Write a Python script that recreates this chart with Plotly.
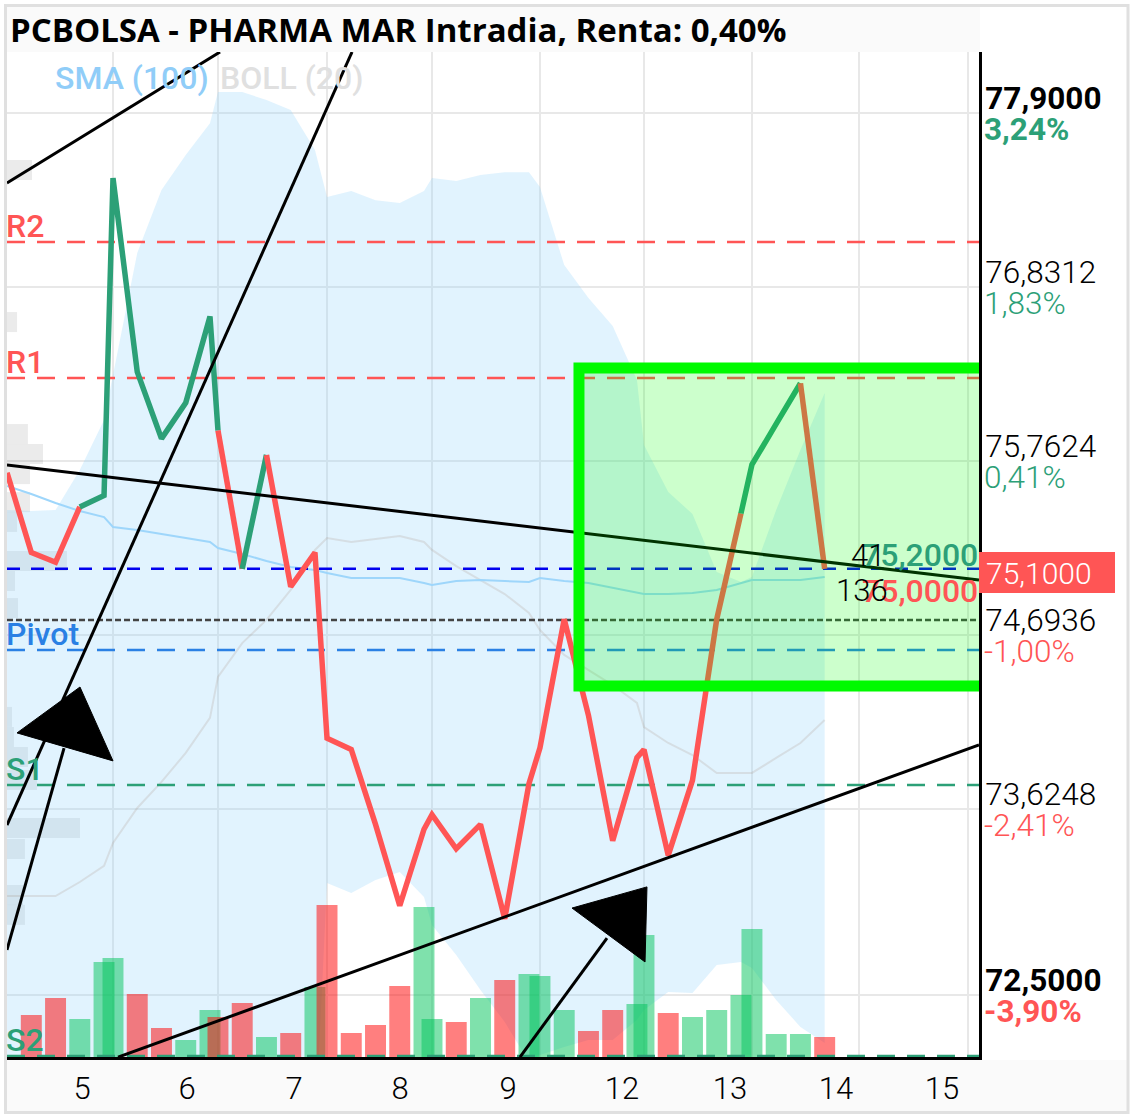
import plotly.graph_objects as go

# ---------------- data ----------------
day_labels = ["5", "6", "7", "8", "9", "12", "13", "14", "15"]
day_label_pos = [0.711, 1.693, 2.694, 3.686, 4.696, 5.762, 6.773, 7.764, 8.756]
session_starts = [0.01, 1.001, 1.983, 3.003, 3.985, 4.995, 5.968, 6.978, 7.979, 8.999]
slots_per_session = [5, 5, 5, 5, 5, 5, 5, 4]
SLOT = 0.2268

price = [75.69, 75.20, 75.14, 75.48, 75.55,
         77.50, 76.31, 75.90, 76.12, 76.65,
         75.95, 75.10, 75.80, 74.99, 75.20,
         74.06, 73.99, 73.53, 73.03, 73.50,
         73.59, 73.38, 73.53, 72.95, 73.78,
         74.00, 74.79, 74.20, 73.43, 73.94,
         73.99, 73.34, 73.80, 74.79, 75.44,
         75.74, 75.99, 76.24, 75.10]
segment_trend = ["d", "d", "d", "u", "u", "u", "u", "u", "u", "u",
                 "d", "u", "d", "d", "d", "d", "d", "d", "d", "d",
                 "d", "d", "d", "d", "d", "d", "d", "d", "d", "d",
                 "d", "d", "d", "d", "u", "u", "u", "d"]
boll_upper = [75.461, 75.455, 75.461, 75.707, 76.014,
              76.291, 77.040, 77.427, 77.642, 77.838,
              78.029, 78.029, 77.980, 77.918, 77.673,
              77.384, 77.421, 77.365, 77.347, 77.421,
              77.501, 77.482, 77.519, 77.537, 77.537,
              77.445, 76.966, 76.764, 76.592, 76.260,
              75.861, 75.572, 75.437, 75.080, 75.019,
              75.050, 75.461, 75.830, 76.180]
boll_lower = [71.6, 71.6, 71.6, 71.6, 71.6,
              71.6, 71.6, 71.6, 71.6, 71.6,
              71.6, 71.6, 71.6, 71.6, 71.6,
              73.170, 73.109, 73.189, 73.238, 73.084,
              72.912, 72.728, 72.513, 72.316, 72.071,
              72.114, 72.163, 72.206, 72.206, 72.329,
              72.390, 72.501, 72.494, 72.666, 72.685,
              72.648, 72.451, 72.286, 72.187]
boll_mid = [73.090, 73.090, 73.090, 73.176, 73.275,
            73.416, 73.631, 73.791, 73.969, 74.184,
            74.436, 74.644, 74.786, 74.970, 75.216,
            75.289, 75.265, 75.283, 75.302, 75.265,
            75.216, 75.117, 75.031, 74.945, 74.829,
            74.724, 74.571, 74.479, 74.386, 74.276,
            74.128, 74.030, 73.956, 73.846, 73.846,
            73.846, 73.938, 74.030, 74.171]
sma_100 = [75.609, 75.560, 75.504, 75.455, 75.418,
           75.357, 75.338, 75.314, 75.289, 75.265,
           75.228, 75.191, 75.148, 75.111, 75.093,
           75.074, 75.044, 75.044, 75.044, 75.013,
           75.001, 75.025, 75.031, 75.025, 75.019,
           75.044, 75.025, 75.013, 74.982, 74.951,
           74.945, 74.945, 74.951, 74.970, 75.013,
           75.031, 75.031, 75.031, 75.050]
volume = [0, 42, 59, 38, 95,
          99, 63, 29, 17, 47,
          40, 54, 20, 24, 70,
          152, 24, 32, 71, 150,
          38, 35, 59, 77, 83,
          81, 47, 26, 47, 53,
          122, 44, 40, 47, 62,
          128, 23, 23, 20]
volume_side = ["d", "d", "d", "u", "u",
               "u", "d", "d", "u", "u",
               "d", "d", "u", "d", "u",
               "d", "d", "d", "d", "u",
               "u", "d", "u", "d", "u",
               "u", "u", "d", "d", "u",
               "u", "d", "u", "u", "u",
               "u", "u", "u", "d"]

profile_price = [77.55, 76.616, 75.928, 75.805, 75.682, 75.51, 75.388, 75.148, 75.025,
                 74.859, 74.19, 74.067, 73.944, 73.803, 73.508, 73.379, 73.096, 72.974]
profile_size = [0.234, 0.094, 0.196, 0.337, 0.215, 0.215, 0.094, 0.561, 0.075,
                0.103, 0.047, 0.065, 0.196, 0.281, 0.683, 0.168, 0.15, 0.168]

level_names = ["R2", "R1", "Pivot", "S1", "S2"]
level_values = [77.108, 76.272, 74.601, 73.772, 72.107]
last_close_level = 75.10
mean_level = 74.786

price_ticks = [77.9, 76.8312, 75.7624, 74.6936, 73.6248, 72.4816]
price_tick_labels = ["77,9000", "76,8312", "75,7624", "74,6936", "73,6248", "72,5000"]
pct_tick_labels = ["3,24%", "1,83%", "0,41%", "-1,00%", "-2,41%", "-3,90%"]

trend_lines = [
    ([0.009, 2.002], [77.47, 78.275]),
    ([0.009, 3.237], [73.526, 78.275]),
    ([0.009, 0.543], [72.759, 73.999]),
    ([0.009, 9.102], [75.738, 75.031]),
    ([1.048, 9.102], [72.10, 74.018]),
    ([4.808, 5.622], [72.10, 72.832]),
]
arrow_heads = [
    ([0.103, 0.692, 1.001], [74.092, 74.374, 73.92]),
    ([5.295, 5.996, 5.978], [73.016, 73.146, 72.685]),
]
box_x = [5.36, 9.5]
box_y = [74.38, 76.334]

# ---------------- styles ----------------
GREEN, RED = "#2ca077", "#ff5555"
BAR_COLORS = {"u": "rgba(0,196,90,0.5)", "d": "rgba(255,0,0,0.5)"}
LINE_COLORS = {"u": GREEN, "d": RED}
LEVEL_COLORS = {"R2": RED, "R1": RED, "Pivot": "#2a80e4", "S1": GREEN, "S2": GREEN}
GRID = "#e8e8e8"
FONT = "Roboto"
W, H = 1133, 1118
L, R, T, B = 7, 979, 52, 1057
X_RANGE = [0.0094, 9.102]
Y_RANGE = [72.101, 78.275]
VOL_RANGE = [0, 1005]


def paper_x(px):
    return (px - L) / (R - L)


def paper_y(py):
    return (B - py) / (B - T)


times = []
for start, n in zip(session_starts, slots_per_session):
    times += [start + k * SLOT for k in range(n)]

fig = go.Figure()

# Bollinger band and middle line (lowest layer)
fig.add_trace(go.Scatter(x=times, y=boll_upper, mode="lines", line=dict(width=0), yaxis="y"))
fig.add_trace(go.Scatter(x=times, y=boll_lower, mode="lines", line=dict(width=0), yaxis="y",
                         fill="tonexty", fillcolor="rgba(135,206,250,0.25)"))
fig.add_trace(go.Scatter(x=times, y=boll_mid, mode="lines", yaxis="y",
                         line=dict(color="rgba(150,110,80,0.15)", width=2)))
# Left-hand volume profile
fig.add_trace(go.Bar(orientation="h", y=profile_price, x=profile_size, base=X_RANGE[0], width=0.123,
                     marker=dict(color="rgba(0,0,0,0.08)", line=dict(width=0)), yaxis="y"))
# Volume bars
fig.add_trace(go.Bar(x=times, y=volume, width=0.196, yaxis="y2",
                     marker=dict(color=[BAR_COLORS[s] for s in volume_side], line=dict(width=0))))
# SMA
fig.add_trace(go.Scatter(x=times, y=sma_100, mode="lines", yaxis="y3",
                         line=dict(color="#9ed6fb", width=2)))
# Horizontal levels
for name, val in zip(level_names, level_values):
    fig.add_trace(go.Scatter(x=X_RANGE, y=[val, val], mode="lines", yaxis="y3",
                             line=dict(color=LEVEL_COLORS[name], width=2.5, dash="18px,12px")))
fig.add_trace(go.Scatter(x=X_RANGE, y=[last_close_level] * 2, mode="lines", yaxis="y3",
                         line=dict(color="#0000ee", width=2.5, dash="13px,11px")))
fig.add_trace(go.Scatter(x=X_RANGE, y=[mean_level] * 2, mode="lines", yaxis="y3",
                         line=dict(color="#444444", width=2.5, dash="6px,3px")))
# Price line, split by direction
start = 0
for i in range(1, len(segment_trend) + 1):
    if i == len(segment_trend) or segment_trend[i] != segment_trend[start]:
        fig.add_trace(go.Scatter(x=times[start:i + 1], y=price[start:i + 1], mode="lines", yaxis="y3",
                                 line=dict(color=LINE_COLORS[segment_trend[start]], width=5.5)))
        start = i
# Drawn trend lines and arrow heads
for xs, ys in trend_lines:
    fig.add_trace(go.Scatter(x=xs, y=ys, mode="lines", yaxis="y3", line=dict(color="black", width=3)))
for xs, ys in arrow_heads:
    fig.add_trace(go.Scatter(x=xs + xs[:1], y=ys + ys[:1], mode="lines", yaxis="y3", fill="toself",
                             fillcolor="black", line=dict(color="black", width=1)))

shapes = [
    dict(type="rect", xref="paper", yref="paper", layer="below", x0=paper_x(7), x1=paper_x(980),
         y0=paper_y(7), y1=paper_y(52), fillcolor="#fafafa", line=dict(width=0)),
    dict(type="rect", xref="paper", yref="paper", layer="below", x0=paper_x(7), x1=paper_x(1127),
         y0=paper_y(1060), y1=paper_y(1111), fillcolor="#fafafa", line=dict(width=0)),
    dict(type="rect", xref="x", yref="y3", x0=box_x[0], x1=box_x[1], y0=box_y[0], y1=box_y[1],
         fillcolor="rgba(0,255,0,0.2)", line=dict(color="#00fa00", width=11)),
    dict(type="rect", xref="paper", yref="paper", x0=paper_x(979), x1=paper_x(1115),
         y0=paper_y(552), y1=paper_y(593), fillcolor=RED, line=dict(width=0)),
    dict(type="rect", xref="paper", yref="paper", x0=paper_x(5.5), x1=paper_x(1128),
         y0=paper_y(5.5), y1=paper_y(1112.5), fillcolor="rgba(0,0,0,0)",
         line=dict(color="#e0e0e0", width=3)),
]


def note(text, x, y, color, xanchor="left", yref="paper", xref="paper", weight=400, family=FONT,
         yshift=0, size=32):
    return dict(text=text, x=x, y=y, xref=xref, yref=yref, xanchor=xanchor, yanchor="middle",
                showarrow=False, yshift=yshift, borderpad=0, borderwidth=0,
                font=dict(family=family, size=size, color=color, weight=weight))


annotations = [
    note("PCBOLSA - PHARMA MAR Intradia, Renta: 0,40%", paper_x(10), paper_y(30), "#000000",
         weight=700, family="Open Sans", size=33),
    note("SMA (100)", paper_x(55), paper_y(78), "#90cdf8", weight=500),
    note("BOLL (20)", paper_x(220), paper_y(78), "#e0e0e0", weight=500),
    note("75,1000", paper_x(986), paper_y(573), "#ffffff", weight=300, size=30),
    note("75,2000", paper_x(978), paper_y(555), GREEN, xanchor="right", weight=500),
    note("75,0000", paper_x(978), paper_y(591), RED, xanchor="right", weight=500),
    note("41", paper_x(868), paper_y(555), "#000000", xanchor="center", weight=300, size=31),
    note("136", paper_x(862), paper_y(590), "#000000", xanchor="center", weight=300, size=31),
]
for name, val in zip(level_names, level_values):
    annotations.append(note(name, paper_x(6), val, LEVEL_COLORS[name], yref="y3", yshift=16, weight=500))

last = len(price_ticks) - 1
price_text, pct_text = [], []
for i, (p, c) in enumerate(zip(price_tick_labels, pct_tick_labels)):
    col = RED if c.startswith("-") else GREEN
    strong = i in (0, last)
    price_text.append(f"<b>{p}</b>" if strong else p)
    pct_text.append(f"<span style='color:{col}'><b>{c}</b></span>" if strong
                    else f"<span style='color:{col}'>{c}</span>")

tick_font = dict(family=FONT, size=31.5, color="#000000", weight=300)

fig.update_layout(
    width=W, height=H, autosize=False,
    margin=dict(l=L, r=W - R, t=T, b=H - B, pad=0),
    paper_bgcolor="white", plot_bgcolor="rgba(0,0,0,0)",
    showlegend=False, barmode="overlay", hovermode=False,
    shapes=shapes, annotations=annotations,
    font=dict(family=FONT),
    xaxis=dict(range=X_RANGE, tickmode="array", tickvals=day_label_pos, ticktext=day_labels,
               tickfont=dict(family=FONT, size=31, color="#000000", weight=300),
               ticks="outside", ticklen=2, tickcolor="rgba(0,0,0,0)", showgrid=False,
               zeroline=False, showline=True, linecolor="black", linewidth=3,
               minor=dict(tickmode="array", tickvals=session_starts[1:], showgrid=True,
                          gridcolor=GRID, gridwidth=2, ticks="")),
    yaxis=dict(range=Y_RANGE, tickmode="array", tickvals=price_ticks, ticktext=pct_text,
               showgrid=True, gridcolor=GRID, gridwidth=2, zeroline=False, side="right",
               ticks="", tickfont=tick_font, ticklabelshift=16, ticklabelstandoff=4),
    yaxis2=dict(range=VOL_RANGE, overlaying="y", visible=False),
    yaxis3=dict(range=Y_RANGE, overlaying="y", side="right", anchor="x", tickmode="array",
                tickvals=price_ticks, ticktext=price_text, showgrid=False, zeroline=False,
                showline=True, linecolor="black", linewidth=3, ticks="",
                tickfont=tick_font, ticklabelshift=-15, ticklabelstandoff=-3),
)

fig.write_html(
    "out.html",
    config={"displayModeBar": False},
    post_script=(
        "document.documentElement.style.overflow='hidden';"
        "document.body.style.margin='0';document.body.style.overflow='hidden';"
        "document.body.style.height='1118px';"
    ),
)
